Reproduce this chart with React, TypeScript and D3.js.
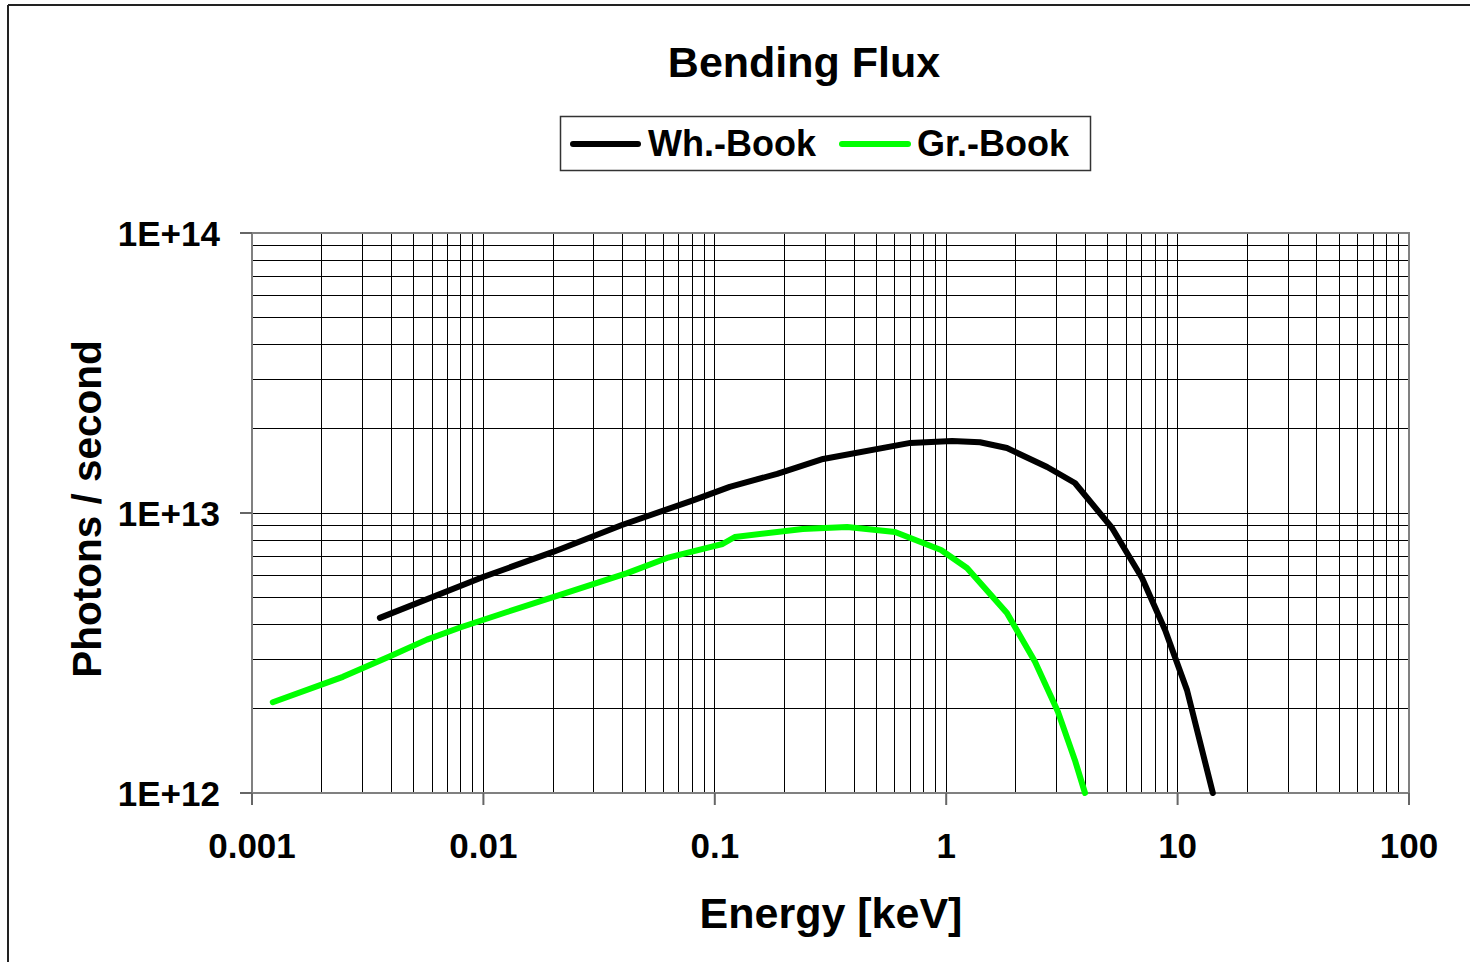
import React from "react";
import * as d3 from "d3";

const W = 1470;
const H = 962;

const xTickValues = [0.001, 0.01, 0.1, 1, 10, 100];
const xTickLabels = ["0.001", "0.01", "0.1", "1", "10", "100"];
const yTickValues = [1e12, 1e13, 1e14];
const yTickLabels = ["1E+12", "1E+13", "1E+14"];

const whEnergy = [0.00357, 0.00996, 0.02, 0.0397, 0.0805, 0.116, 0.186, 0.294, 0.7, 1.06, 1.4, 1.83, 2.73, 3.6, 5.21, 7.02, 8.83, 10.98, 14.2];
const whFlux = [4.22e12, 5.91e12, 7.26e12, 9.06e12, 1.11e13, 1.24e13, 1.38e13, 1.56e13, 1.78e13, 1.807e13, 1.79e13, 1.706e13, 1.46e13, 1.28e13, 8.84e12, 5.86e12, 3.82e12, 2.33e12, 1.0e12];

const grEnergy = [0.00123, 0.00247, 0.00395, 0.0057, 0.00793, 0.01265, 0.02, 0.0418, 0.0622, 0.0982, 0.108, 0.122, 0.24, 0.373, 0.601, 0.95, 1.23, 1.83, 2.42, 3.04, 3.6, 3.98];
const grFlux = [2.11e12, 2.6e12, 3.08e12, 3.53e12, 3.9e12, 4.43e12, 5.01e12, 6.1e12, 6.91e12, 7.6e12, 7.75e12, 8.21e12, 8.77e12, 8.91e12, 8.55e12, 7.38e12, 6.36e12, 4.39e12, 2.94e12, 1.95e12, 1.31e12, 1.0e12];

const seriesNames = ["Wh.-Book", "Gr.-Book"];
const seriesColors = ["#000000", "#00ff00"];

const FONT = "'Liberation Sans', Arial, sans-serif";

export default function App() {
  const left = 252, right = 1409, top = 233, bottom = 793;
  const x = d3.scaleLog().domain([0.001, 100]).range([left, right]);
  const y = d3.scaleLog().domain([1e12, 1e14]).range([bottom, top]);

  const xMinor: number[] = [];
  for (let e = -3; e < 2; e++) for (let m = 1; m <= 9; m++) xMinor.push(m * Math.pow(10, e));
  const yMinor: number[] = [];
  for (let e = 12; e < 14; e++) for (let m = 1; m <= 9; m++) yMinor.push(m * Math.pow(10, e));

  const line = d3
    .line<[number, number]>()
    .x((d) => x(d[0]))
    .y((d) => y(d[1]))
    .curve(d3.curveLinear);

  const wh = whEnergy.map((e, i) => [e, whFlux[i]] as [number, number]);
  const gr = grEnergy.map((e, i) => [e, grFlux[i]] as [number, number]);

  return (
    <svg
      width={W}
      height={H}
      style={{ position: "absolute", left: 0, top: 0, background: "#fff" }}
      fontFamily={FONT}
    >
      <rect x={0} y={0} width={W} height={H} fill="#fff" />
      {/* outer frame */}
      <line x1={8} y1={5} x2={W + 10} y2={5} stroke="#222" strokeWidth={2} />
      <line x1={8} y1={5} x2={8} y2={H + 10} stroke="#222" strokeWidth={2} />

      {/* title */}
      <text x={804} y={77} textAnchor="middle" fontSize={43} fontWeight="bold">
        Bending Flux
      </text>

      {/* legend */}
      <rect x={560.5} y={116.5} width={530} height={54} fill="#fff" stroke="#333" strokeWidth={1.5} />
      <line x1={573} y1={144} x2={638} y2={144} stroke={seriesColors[0]} strokeWidth={6} strokeLinecap="round" />
      <text x={648} y={156} fontSize={36} fontWeight="bold">{seriesNames[0]}</text>
      <line x1={842} y1={144} x2={908} y2={144} stroke={seriesColors[1]} strokeWidth={6} strokeLinecap="round" />
      <text x={917} y={156} fontSize={36} fontWeight="bold">{seriesNames[1]}</text>

      {/* gridlines */}
      <g shapeRendering="crispEdges">
        {xMinor.map((v, i) => (
          <line key={"gx" + i} x1={x(v)} x2={x(v)} y1={top} y2={bottom} stroke="#000" strokeWidth={1} />
        ))}
        {yMinor.map((v, i) => (
          <line key={"gy" + i} x1={left} x2={right} y1={y(v)} y2={y(v)} stroke="#000" strokeWidth={1} />
        ))}
      </g>

      {/* plot border */}
      <rect x={left} y={top} width={right - left} height={bottom - top} fill="none" stroke="#808080" strokeWidth={2} />

      {/* ticks */}
      {yTickValues.map((v, i) => (
        <g key={"yt" + i}>
          <line x1={left - 12} x2={left} y1={y(v)} y2={y(v)} stroke="#666" strokeWidth={2} />
          <text x={220} y={y(v) + 12.5} textAnchor="end" fontSize={35} fontWeight="bold">
            {yTickLabels[i]}
          </text>
        </g>
      ))}
      {xTickValues.map((v, i) => (
        <g key={"xt" + i}>
          <line x1={x(v)} x2={x(v)} y1={bottom} y2={bottom + 12} stroke="#666" strokeWidth={2} />
          <text x={x(v)} y={858} textAnchor="middle" fontSize={35} fontWeight="bold">
            {xTickLabels[i]}
          </text>
        </g>
      ))}

      {/* axis titles */}
      <text x={831} y={928} textAnchor="middle" fontSize={43} fontWeight="bold">
        Energy [keV]
      </text>
      <text
        transform={`translate(101, ${(top + bottom) / 2 - 4}) rotate(-90)`}
        textAnchor="middle"
        fontSize={40.5}
        fontWeight="bold"
      >
        Photons / second
      </text>

      {/* series */}
      <path d={line(wh) || ""} fill="none" stroke={seriesColors[0]} strokeWidth={6} strokeLinecap="round" strokeLinejoin="round" />
      <path d={line(gr) || ""} fill="none" stroke={seriesColors[1]} strokeWidth={6} strokeLinecap="round" strokeLinejoin="round" />
    </svg>
  );
}
